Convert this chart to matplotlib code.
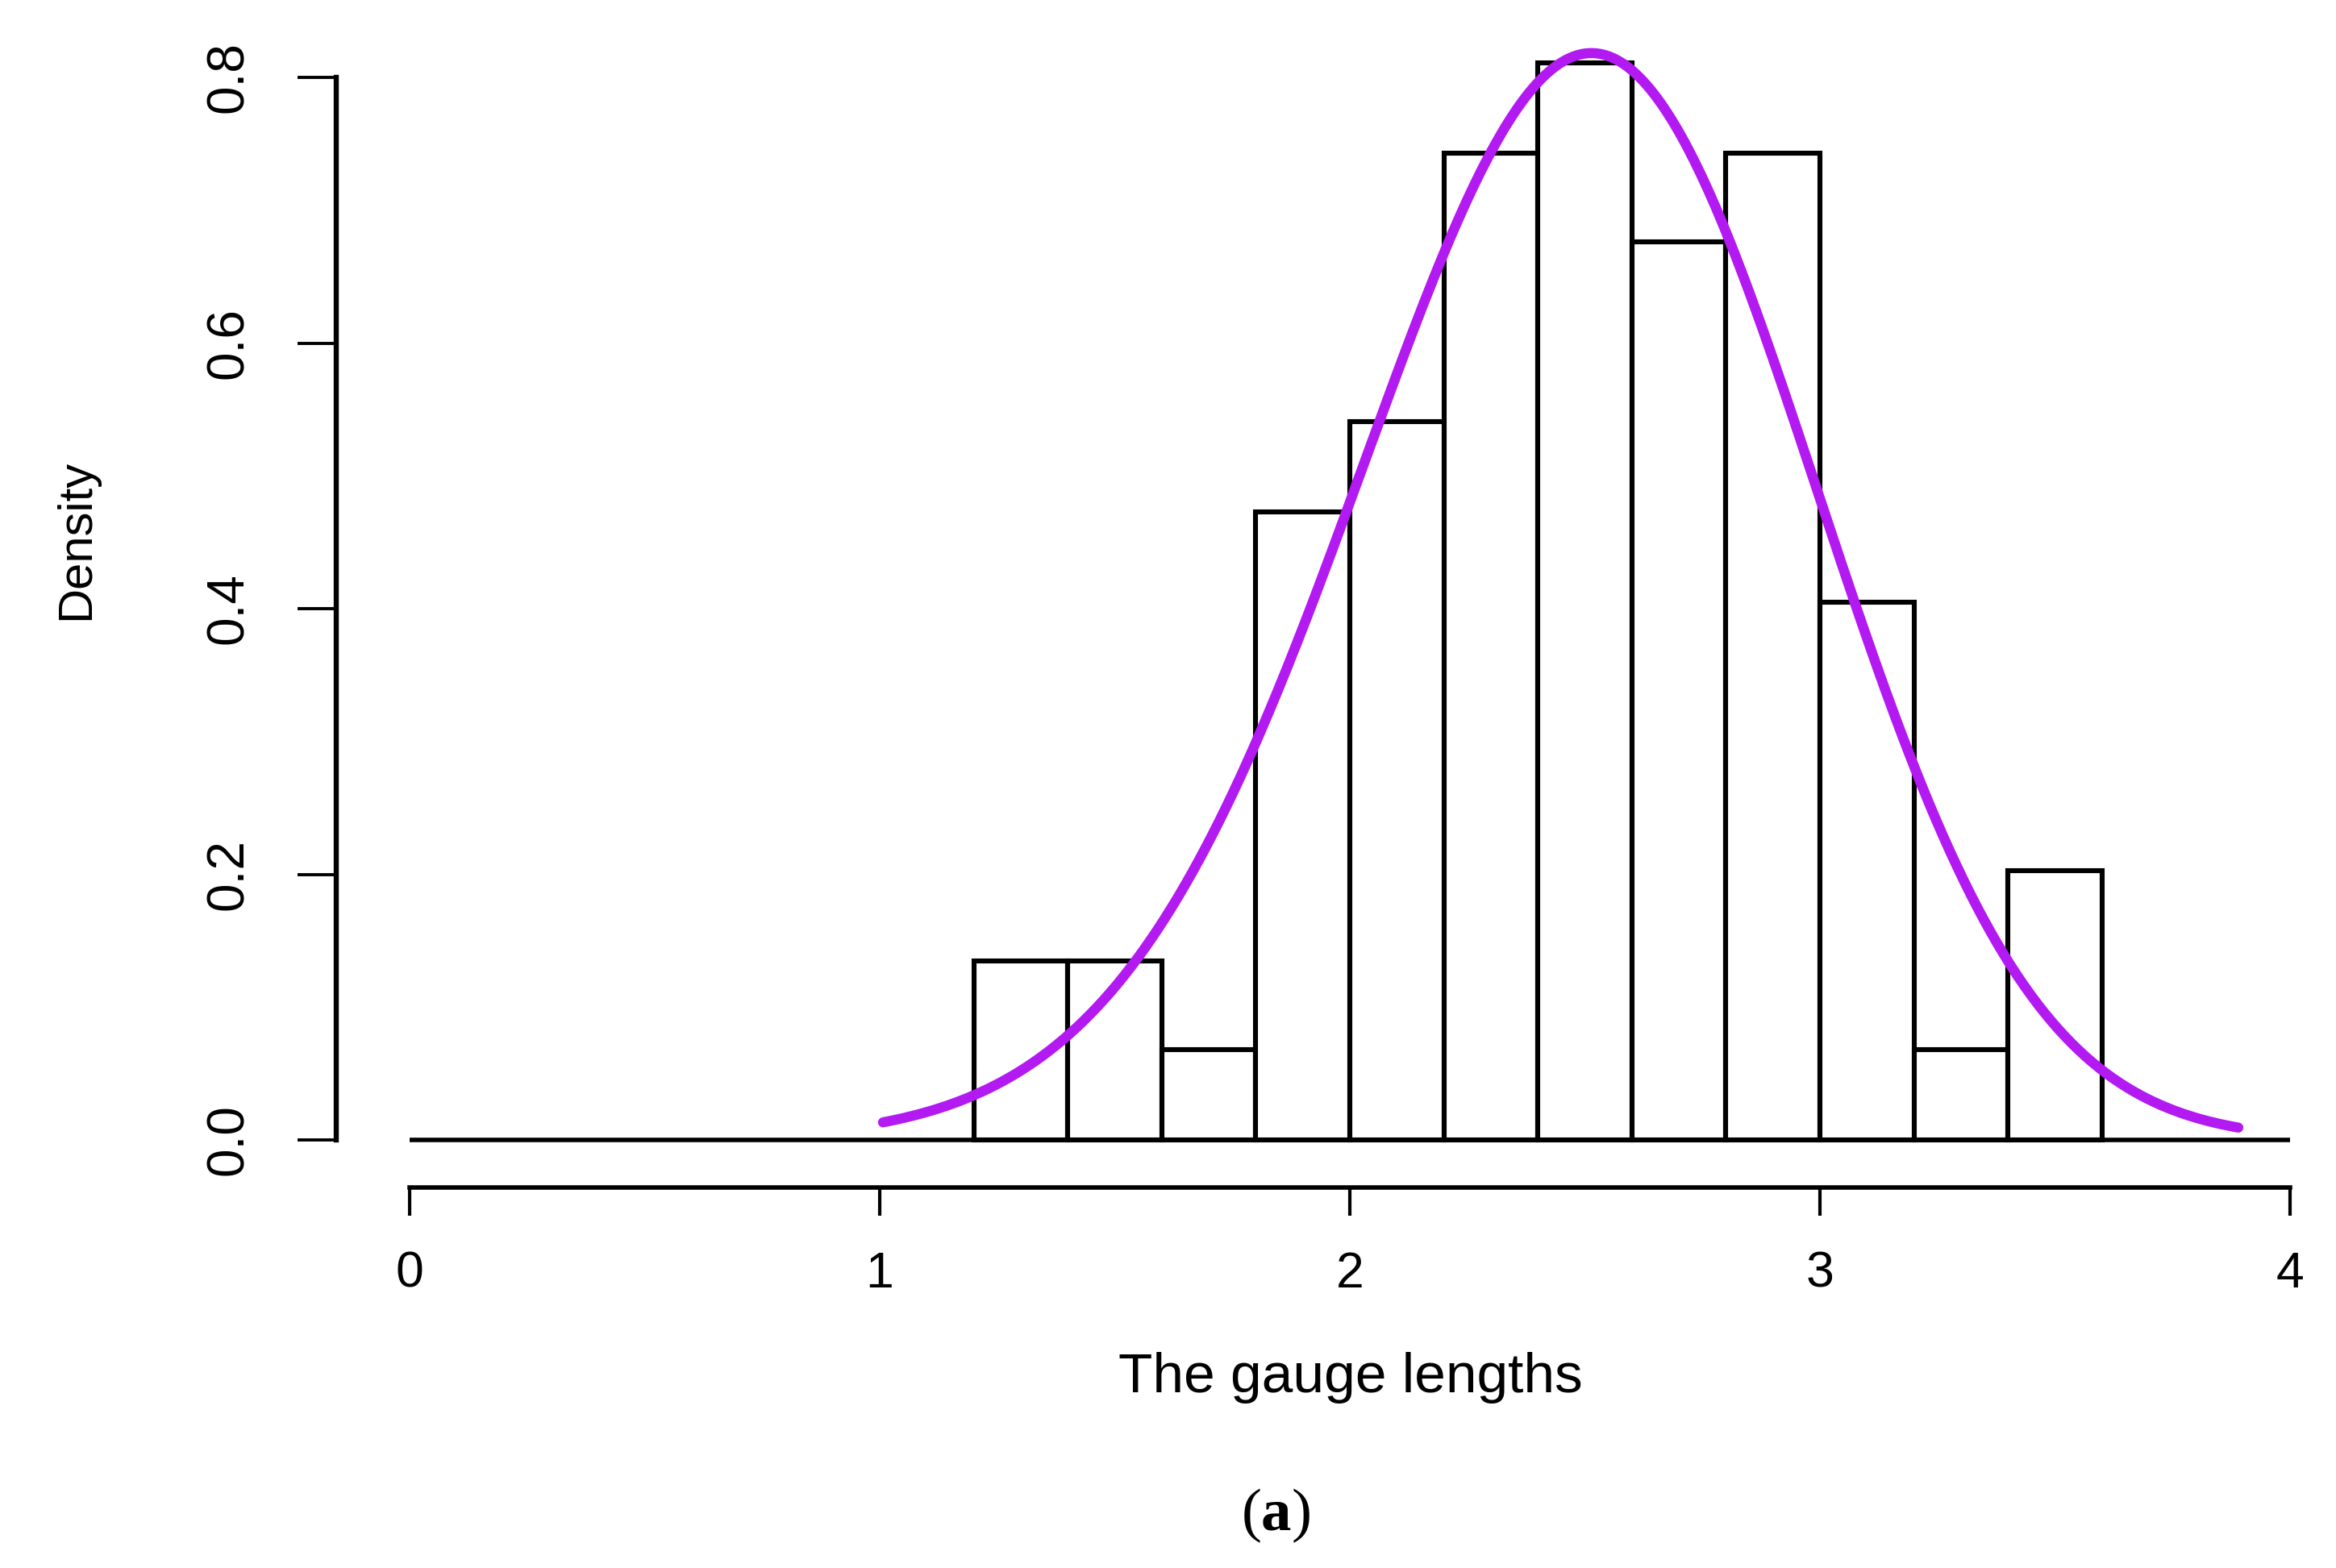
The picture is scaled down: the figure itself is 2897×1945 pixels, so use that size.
# histogram of gauge lengths with fitted density curve

import numpy as np
import matplotlib
matplotlib.use("Agg")
import matplotlib.pyplot as plt
from math import erf, sqrt

# histogram breaks and densities
breaks = [1.2, 1.4, 1.6, 1.8, 2.0, 2.2, 2.4, 2.6, 2.8, 3.0, 3.2, 3.4, 3.6]
density = [0.135, 0.135, 0.068, 0.473, 0.541, 0.743, 0.811, 0.676, 0.743, 0.405, 0.068, 0.203]

# fitted (left skewed) density curve: location, scale, shape, drawn range
curve_loc = 2.815
curve_scale = 0.595
curve_shape = -1.0
curve_from = 1.007
curve_to = 3.89

x_ticks = [0, 1, 2, 3, 4]
y_ticks = [0.0, 0.2, 0.4, 0.6, 0.8]
y_ticklabels = ["0.0", "0.2", "0.4", "0.6", "0.8"]
x_title = "The gauge lengths"
y_title = "Density"
panel = r"($\mathbf{a}$)"

plt.rcParams['mathtext.fontset'] = 'custom'
plt.rcParams['mathtext.bf'] = 'Liberation Serif:bold'
plt.rcParams['mathtext.rm'] = 'Liberation Serif'

W, H = 2897, 1945
fig = plt.figure(figsize=(W / 100, H / 100), dpi=100)
fig.patch.set_facecolor("white")

# axes placed in pixels: x 0..4 -> 508..2840, y 0..0.8 -> 1414..96
ax = fig.add_axes([508 / W, (H - 1414) / H, (2840 - 508) / W, (1414 - 96) / H])
ax.set_xlim(0, 4)
ax.set_ylim(0, 0.8)
ax.patch.set_alpha(0)

widths = np.diff(breaks)
ax.bar(breaks[:-1], density, width=widths, align='edge', facecolor='white',
       edgecolor='black', linewidth=4.4, clip_on=False, zorder=2)
ax.hlines(0, 0, 4, color='black', linewidth=4.0, clip_on=False, zorder=3)

# skew-normal density
xs = np.linspace(curve_from, curve_to, 400)
z = (xs - curve_loc) / curve_scale
phi = np.exp(-0.5 * z ** 2) / np.sqrt(2 * np.pi)
Phi = np.array([0.5 * (1 + erf(curve_shape * v / sqrt(2))) for v in z])
ys = 2 / curve_scale * phi * Phi
ax.plot(xs, ys, color='#b31af2', linewidth=9.0, solid_capstyle='round',
        clip_on=False, zorder=4)

for s in ['top', 'right']:
    ax.spines[s].set_visible(False)
ax.spines['left'].set_position(('outward', 65.5))
ax.spines['bottom'].set_position(('outward', 42.5))
ax.spines['left'].set_bounds(0, 0.8)
ax.spines['bottom'].set_bounds(0, 4)
ax.spines['left'].set_linewidth(4.6)
ax.spines['bottom'].set_linewidth(4.0)

ax.set_xticks(x_ticks)
ax.set_xticklabels([str(t) for t in x_ticks], family=['Liberation Sans', 'DejaVu Sans'], fontsize=45)
ax.set_yticks(y_ticks)
ax.set_yticklabels(y_ticklabels, family=['Liberation Sans', 'DejaVu Sans'],
                   fontsize=46, rotation=90, va='center')
ax.tick_params(axis='x', direction='out', length=25, width=3.0, pad=31)
ax.tick_params(axis='y', direction='out', length=34.5, width=2.8, pad=40)

fig.text(1675 / W, 1 - 1727 / H, x_title, ha='center', va='baseline',
         family=['Liberation Sans', 'DejaVu Sans'], fontsize=50)
fig.text(95 / W, 1 - 669 / H, y_title, ha='center', va='center', rotation=90,
         family=['Liberation Sans', 'DejaVu Sans'], fontsize=43)
fig.text(1582 / W, 1 - 1898 / H, panel, ha='center', va='baseline',
         family=['Liberation Serif', 'DejaVu Serif'], fontsize=54)

fig.savefig("out.png", dpi=100)
